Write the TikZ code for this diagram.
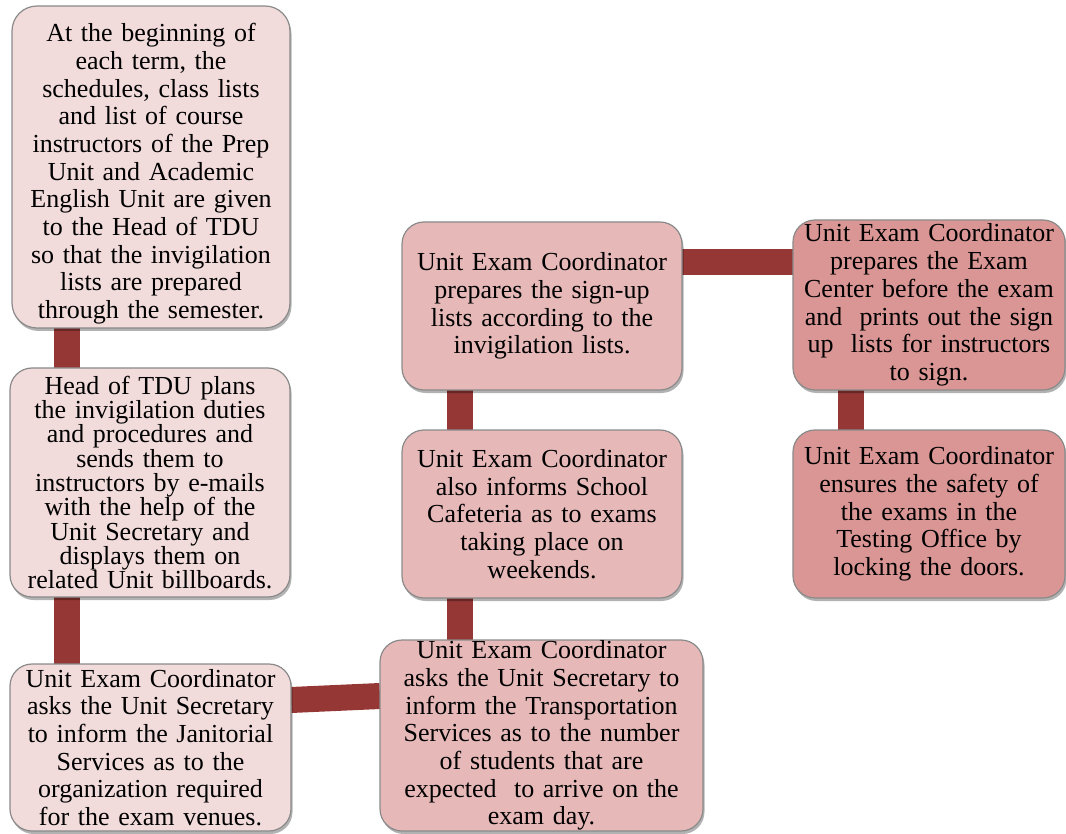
\documentclass[tikz,border=0pt]{standalone}
\usepackage{fontspec}
\setmainfont{Liberation Serif}
\usetikzlibrary{shadows,backgrounds}
\definecolor{pinkA}{HTML}{F2DCDB}
\definecolor{pinkB}{HTML}{E6B9B8}
\definecolor{pinkC}{HTML}{D99694}
\definecolor{linkred}{HTML}{953735}
\definecolor{rimgray}{HTML}{8A8A8A}
\tikzset{
  stepbox/.style={draw=rimgray, line width=1.2pt, rounded corners=22pt,
    align=center, inner sep=3pt, outer sep=0pt,
    font=\fontsize{26}{27.7}\selectfont,
    drop shadow={shadow xshift=1.5pt, shadow yshift=-3pt, opacity=0.3, fill=black}},
  tight/.style={font=\fontsize{26}{24.3}\selectfont},
  link/.style={draw=linkred, line width=26pt}
}
\begin{document}
\begin{tikzpicture}[x=1pt,y=-1pt]
\useasboundingbox (0,0) rectangle (1066,834);

% left column
\node[stepbox, fill=pinkA, minimum width=278pt, minimum height=322pt, text width=270pt, rounded corners=25pt] (b1) at (151,167)
  {\rule{0pt}{32pt}At the beginning of\\ each term, the\\ schedules, class lists\\ and list of course\\ instructors of the Prep\\ Unit and Academic\\ English Unit are given\\ to the Head of TDU\\ so that the invigilation\\ lists are prepared\\ through the semester.};
\node[stepbox, tight, fill=pinkA, minimum width=280pt, minimum height=229pt, text width=272pt] (b2) at (150,482.5)
  {Head of TDU plans\\ the invigilation duties\\ and procedures and\\ sends them to\\ instructors by e-mails\\ with the help of the\\ Unit Secretary and\\ displays them on\\ related Unit billboards.};
\node[stepbox, fill=pinkA, minimum width=281pt, minimum height=167pt, text width=273pt] (b3) at (150.5,747.5)
  {Unit Exam Coordinator\\ asks the Unit Secretary\\ to inform the Janitorial\\ Services as to the\\ organization required\\ for the exam venues.};

% middle column
\node[stepbox, fill=pinkB, inner ysep=0pt, minimum width=323pt, minimum height=191pt, text width=315pt] (b4) at (541.5,735.5)
  {Unit Exam Coordinator\\ asks the Unit Secretary to\\ inform the Transportation\\ Services as to the number\\ of students that are\\ expected\ \ to arrive on the\\ exam day.};
\node[stepbox, fill=pinkB, minimum width=280pt, minimum height=168pt, text width=272pt] (b5) at (542,514)
  {Unit Exam Coordinator\\ also informs School\\ Cafeteria as to exams\\ taking place on\\ weekends.};
\node[stepbox, fill=pinkB, minimum width=280pt, minimum height=168pt, text width=272pt] (b6) at (542,306)
  {Unit Exam Coordinator\\ prepares the sign-up\\ lists according to the\\ invigilation lists.};

% right column
\node[stepbox, fill=pinkC, minimum width=272pt, minimum height=170pt, text width=266pt] (b7) at (929,305)
  {Unit Exam Coordinator\\ prepares the Exam\\ Center before the exam\\ and\ \ prints out the sign\\ up\ \ lists for instructors\\ to sign.};
\node[stepbox, fill=pinkC, minimum width=272pt, minimum height=168pt, text width=266pt] (b8) at (929,514)
  {Unit Exam Coordinator\\ ensures the safety of\\ the exams in the\\ Testing Office by\\ locking the doors.};

% connecting bars behind the boxes
\begin{scope}[on background layer]
  \draw[link] ([xshift=55pt]b1.south west) -- ([xshift=57pt]b2.north west);
  \draw[link] ([xshift=57pt]b2.south west) -- ([xshift=57pt]b3.north west);
  \draw[link] ([yshift=-36pt]b3.north east) -- ([yshift=-56pt]b4.north west);
  \draw[link] ([xshift=80pt]b4.north west) -- ([xshift=58pt]b5.south west);
  \draw[link] ([xshift=58pt]b5.north west) -- ([xshift=58pt]b6.south west);
  \draw[link] ([yshift=-40pt]b6.north east) -- ([yshift=-42pt]b7.north west);
  \draw[link] ([xshift=58pt]b7.south west) -- ([xshift=58pt]b8.north west);
\end{scope}
\end{tikzpicture}
\end{document}
